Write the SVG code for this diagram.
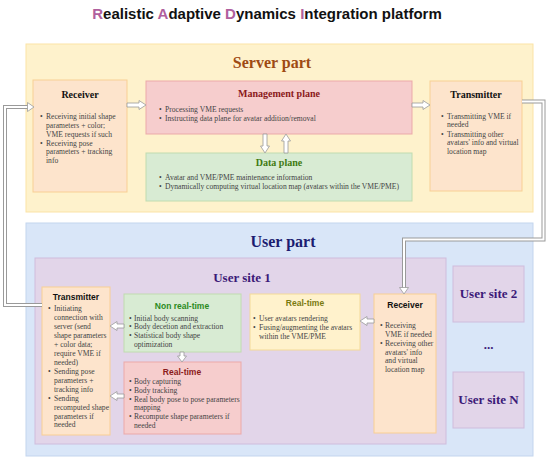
<svg xmlns="http://www.w3.org/2000/svg" width="550" height="459" viewBox="0 0 550 459">
<defs>
<style>
.bg{fill:#fff}
.srv{fill:#fef2cc;stroke:#fbe3a6;stroke-width:1}
.usr{fill:#d9e6f8;stroke:#c3d5ee;stroke-width:1}
.site{fill:#e2d5e9;stroke:#cfbcdc;stroke-width:1}
.peach{fill:#fde4cc;stroke:#f8cf94;stroke-width:1}
.red{fill:#f6cdcd;stroke:#eba9a9;stroke-width:1}
.green{fill:#d8ebd3;stroke:#c0dcb0;stroke-width:1}
.yel{fill:#fff2cc;stroke:#f3da98;stroke-width:1}
.ttl{font-family:"Liberation Sans",Arial,sans-serif;font-weight:bold;font-size:15px;fill:#111}
.ttl .h{fill:#b0609e}
.sec{font-family:"Liberation Serif","Times New Roman",serif;font-weight:bold;font-size:16px;text-anchor:middle}
.site-t{font-family:"Liberation Serif","Times New Roman",serif;font-weight:bold;font-size:13px;fill:#3c1a78;text-anchor:middle}
.bt{font-family:"Liberation Serif","Times New Roman",serif;font-weight:bold;font-size:10px;text-anchor:middle;fill:#111}
.st{font-family:"Liberation Sans",Arial,sans-serif;font-weight:bold;font-size:8.5px;text-anchor:middle;fill:#111}
.tx{font-family:"Liberation Serif","Times New Roman",serif;font-size:7.6px;fill:#444}
.ar{fill:#fff;stroke:#9a9a9a;stroke-width:0.8}
.lo{fill:none;stroke:#9a9a9a;stroke-width:4}
.li{fill:none;stroke:#fff;stroke-width:2}
</style>
</defs>
<rect class="bg" x="0" y="0" width="550" height="459"/>
<text class="ttl" x="267" y="19" text-anchor="middle"><tspan class="h">R</tspan>ealistic <tspan class="h">A</tspan>daptive <tspan class="h">D</tspan>ynamics <tspan class="h">I</tspan>ntegration platform</text>

<g id="server-part">
<rect class="srv" x="26" y="44" width="507" height="168"/>
<text class="sec" x="272" y="68" fill="#9e4b14">Server part</text>
</g>

<g id="server-receiver">
<rect class="peach" x="33" y="80" width="94" height="112"/>
<text class="bt" x="80" y="98">Receiver</text>
<text class="tx"><tspan x="40" y="119">•</tspan><tspan x="46" y="119">Receiving initial  shape</tspan><tspan x="46" y="128">parameters + color;</tspan><tspan x="46" y="136.5">VME requests if such</tspan><tspan x="40" y="145.5">•</tspan><tspan x="46" y="145.5">Receiving pose</tspan><tspan x="46" y="154">parameters + tracking</tspan><tspan x="46" y="163">info</tspan></text>
</g>

<g id="management-plane">
<rect class="red" x="146" y="81" width="266" height="53"/>
<text class="bt" x="279" y="96.5" fill="#8b1a1a" style="fill:#8b1a1a">Management plane</text>
<text class="tx"><tspan x="159" y="111.5">•</tspan><tspan x="165" y="111.5">Processing VME requests</tspan><tspan x="159" y="120.5">•</tspan><tspan x="165" y="120.5">Instructing data plane for avatar addition/removal</tspan></text>
</g>

<g id="data-plane">
<rect class="green" x="146" y="153" width="266" height="48"/>
<text class="bt" x="279" y="165.5" style="fill:#3f7a12">Data plane</text>
<text class="tx"><tspan x="159" y="179.5">•</tspan><tspan x="165" y="179.5">Avatar and VME/PME maintenance information</tspan><tspan x="159" y="188.5">•</tspan><tspan x="165" y="188.5">Dynamically computing virtual location map (avatars within the VME/PME)</tspan></text>
</g>

<g id="server-transmitter">
<rect class="peach" x="430" y="81" width="92" height="110"/>
<text class="bt" x="476" y="98">Transmitter</text>
<text class="tx"><tspan x="441" y="118.5">•</tspan><tspan x="447" y="118.5">Transmitting VME if</tspan><tspan x="447" y="127">needed</tspan><tspan x="441" y="136.5">•</tspan><tspan x="447" y="136.5">Transmitting other</tspan><tspan x="447" y="145">avatars' info and virtual</tspan><tspan x="447" y="153.5">location map</tspan></text>
</g>

<g id="user-part">
<rect class="usr" x="26" y="223" width="507" height="233"/>
<text class="sec" x="283" y="247" fill="#1c1c70">User part</text>
</g>

<g id="user-site-1">
<rect class="site" x="35" y="258" width="411" height="186"/>
<text class="site-t" x="242" y="282">User site  1</text>
</g>

<g id="user-site-2">
<rect class="site" x="453" y="266" width="71" height="56"/>
<text class="site-t" x="488.5" y="298">User site 2</text>
</g>

<g id="dots">
<text class="site-t" x="488.5" y="349">...</text>
</g>

<g id="user-site-n">
<rect class="site" x="453" y="372" width="71" height="56"/>
<text class="site-t" x="488.5" y="404">User site N</text>
</g>

<g id="user-transmitter">
<rect class="peach" x="42" y="287" width="68" height="148"/>
<text class="st" x="76" y="300">Transmitter</text>
<text class="tx"><tspan x="48" y="311">•</tspan><tspan x="54" y="311">Initiating</tspan><tspan x="54" y="320">connection with</tspan><tspan x="54" y="329">server (send</tspan><tspan x="54" y="337.5">shape parameters</tspan><tspan x="54" y="346.5">+ color data;</tspan><tspan x="54" y="355.5">require VME if</tspan><tspan x="54" y="364.5">needed)</tspan><tspan x="48" y="373.5">•</tspan><tspan x="54" y="373.5">Sending pose</tspan><tspan x="54" y="382.5">parameters +</tspan><tspan x="54" y="391.5">tracking info</tspan><tspan x="48" y="400.5">•</tspan><tspan x="54" y="400.5">Sending</tspan><tspan x="54" y="409.5">recomputed shape</tspan><tspan x="54" y="418.5">parameters if</tspan><tspan x="54" y="427">needed</tspan></text>
</g>

<g id="non-real-time">
<rect class="green" x="124" y="294" width="117" height="58"/>
<text class="st" x="182" y="309" style="fill:#2b8a1e">Non real-time</text>
<text class="tx"><tspan x="129" y="320.5">•</tspan><tspan x="134" y="320.5">Initial body scanning</tspan><tspan x="129" y="329">•</tspan><tspan x="134" y="329">Body decetion and extraction</tspan><tspan x="129" y="337.5">•</tspan><tspan x="134" y="337.5">Statistical body shape</tspan><tspan x="134" y="346.5">optimization</tspan></text>
</g>

<g id="real-time-capture">
<rect class="red" x="124" y="362" width="117" height="72"/>
<text class="st" x="182" y="374.5" style="fill:#8b1a1a">Real-time</text>
<text class="tx"><tspan x="129" y="384">•</tspan><tspan x="134" y="384">Body capturing</tspan><tspan x="129" y="392.5">•</tspan><tspan x="134" y="392.5">Body tracking</tspan><tspan x="129" y="401.5">•</tspan><tspan x="134" y="401.5">Real body pose to pose parameters</tspan><tspan x="134" y="410">mapping</tspan><tspan x="129" y="419">•</tspan><tspan x="134" y="419">Recompute shape parameters if</tspan><tspan x="134" y="428">needed</tspan></text>
</g>

<g id="real-time-render">
<rect class="yel" x="250" y="294" width="110" height="56"/>
<text class="st" x="305" y="306" style="fill:#7a7a10">Real-time</text>
<text class="tx"><tspan x="253" y="320.5">•</tspan><tspan x="259" y="320.5">User avatars rendering</tspan><tspan x="253" y="329.5">•</tspan><tspan x="259" y="329.5">Fusing/augmenting the avatars</tspan><tspan x="259" y="338.5">within the VME/PME</tspan></text>
</g>

<g id="user-receiver">
<rect class="peach" x="374" y="294" width="62" height="139"/>
<text class="st" x="405" y="308">Receiver</text>
<text class="tx"><tspan x="380" y="327.5">•</tspan><tspan x="385" y="327.5">Receiving</tspan><tspan x="385" y="336.5">VME if needed</tspan><tspan x="380" y="345.5">•</tspan><tspan x="385" y="345.5">Receiving other</tspan><tspan x="385" y="354.5">avatars' info</tspan><tspan x="385" y="363">and virtual</tspan><tspan x="385" y="371.5">location map</tspan></text>
</g>

<g id="connectors">
<path class="ar" d="M127,103 H139 V100.5 L146,105 L139,109.5 V107 H127 Z"/>
<path class="ar" d="M412,103 H423 V100.5 L430,105 L423,109.5 V107 H412 Z"/>
<path class="ar" d="M263,134 V146 H260.5 L265,153 L269.5,146 H267 V134 Z"/>
<path class="ar" d="M284,153 V141 H281.5 L286,134 L290.5,141 H288 V153 Z"/>
<path class="ar" d="M124,324 H117 V321.5 L110,326 L117,330.5 V328 H124 Z"/>
<path class="ar" d="M124,394 H117 V391.5 L110,396 L117,400.5 V398 H124 Z"/>
<path class="ar" d="M180,352 V356 H177.5 L182,362 L186.5,356 H184 V352 Z"/>
<path class="ar" d="M374,319 H367 V316.5 L360,321 L367,325.5 V323 H374 Z"/>
<path class="lo" d="M522,101.5 H543.5 V239.5 H404 V288"/>
<path class="li" d="M522,101.5 H543.5 V239.5 H404 V289"/>
<path class="ar" d="M399.5,287.5 L408.5,287.5 L404,294 Z"/>
<path class="lo" d="M42,305 H5 V107 H28"/>
<path class="li" d="M42,305 H5 V107 H29"/>
<path class="ar" d="M27.5,102.5 L27.5,111.5 L34,107 Z"/>
</g>
</svg>
